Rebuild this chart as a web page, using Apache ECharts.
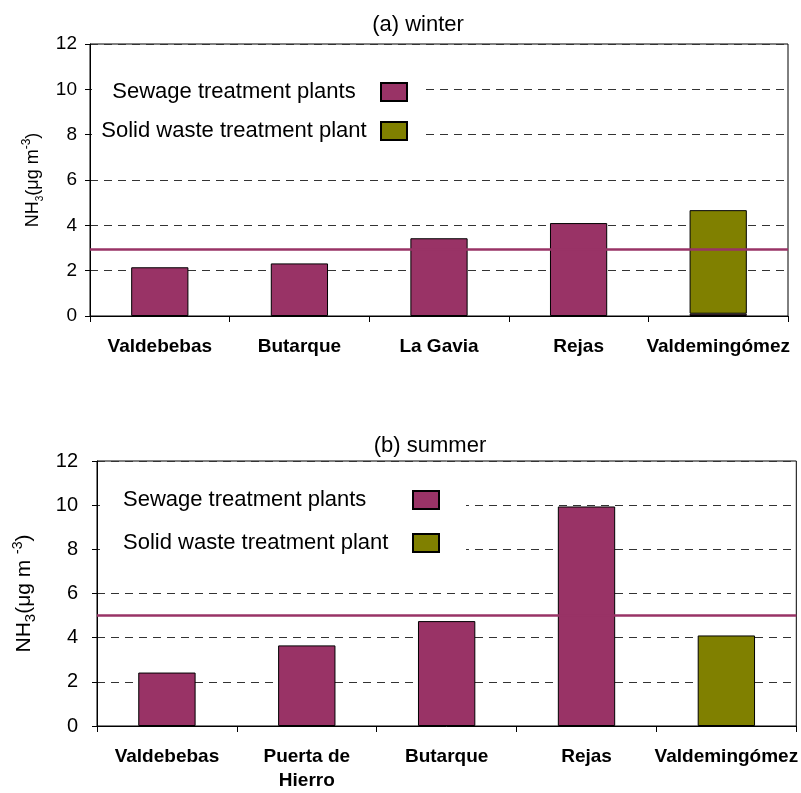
<!DOCTYPE html>
<html>
<head>
<meta charset="utf-8">
<script src="https://cdn.jsdelivr.net/npm/echarts@6/dist/echarts.min.js"></script>
<style>
  html, body { margin: 0; padding: 0; background: #fff; }
  #chart { width: 801px; height: 793px; }
</style>
</head>
<body>
<div id="chart"></div>
<script>
// NH3 concentrations near treatment plants, winter and summer campaigns
const winterSites = ['Valdebebas', 'Butarque', 'La Gavia', 'Rejas', 'Valdemingómez'];
const winterSewage = [2.15, 2.32, 3.43, 4.10, 0.10];
const winterSolid = ['-', '-', '-', '-', 4.57];
const winterReference = 2.95;

const summerSites = ['Valdebebas', 'Puerta de\nHierro', 'Butarque', 'Rejas', 'Valdemingómez'];
const summerSewage = [2.42, 3.65, 4.75, 9.94, '-'];
const summerSolid = ['-', '-', '-', '-', 4.10];
const summerReference = 5.0;

const yTicks = { min: 0, max: 12, interval: 2 };
const seriesNames = ['Sewage treatment plants', 'Solid waste treatment plant'];
const panelTitles = ['(a) winter', '(b) summer'];

const FONT = 'Arial, "Liberation Sans", sans-serif';
const SEWAGE_COLOR = '#993366';
const SOLID_COLOR = '#808000';

// axis title with subscript 3 and superscript -3
function unitName(spaced) {
  return '{a|NH}{s|3}{a|(μg m' + (spaced ? ' ' : '') + '}{p|-3}{a|)}';
}
function unitRich(size, subScale) {
  const lh = size + 6;
  return {
    a: { fontSize: size, fontFamily: FONT, color: '#000', lineHeight: lh },
    s: { fontSize: Math.round(size * subScale), fontFamily: FONT, color: '#000', verticalAlign: 'bottom', lineHeight: lh },
    p: { fontSize: Math.round(size * 0.68), fontFamily: FONT, color: '#000', verticalAlign: 'top', lineHeight: lh }
  };
}

function yAxisFor(gridIndex, labelSize, nameSize, subScale, nameGap, labelMargin, spaced) {
  return {
    type: 'value', gridIndex,
    min: yTicks.min, max: yTicks.max, interval: yTicks.interval,
    name: unitName(spaced),
    nameLocation: 'middle', nameRotate: 90, nameGap,
    nameTextStyle: { rich: unitRich(nameSize, subScale) },
    axisLine: { show: true, lineStyle: { color: '#000', width: 1 } },
    axisTick: { show: true, length: 5, lineStyle: { color: '#000' } },
    axisLabel: { fontSize: labelSize, fontFamily: FONT, color: '#000', margin: labelMargin },
    splitLine: { show: true, lineStyle: { color: '#333', width: 1, type: [8, 6] } }
  };
}

function xAxisFor(gridIndex, cats) {
  return {
    type: 'category', gridIndex, data: cats,
    axisLine: { show: true, lineStyle: { color: '#000', width: 1 } },
    axisTick: { show: true, alignWithLabel: false, length: 6, lineStyle: { color: '#000' } },
    axisLabel: { fontSize: 19, fontWeight: 'bold', fontFamily: FONT, color: '#000', margin: 19, lineHeight: 24, interval: 0 }
  };
}

function barSeries(name, data, idx, color, refValue) {
  const s = {
    name, type: 'bar', data, xAxisIndex: idx, yAxisIndex: idx, stack: 'site' + idx,
    barWidth: '41%',
    itemStyle: { color, borderColor: '#000', borderWidth: 1 },
    emphasis: { disabled: true }
  };
  if (refValue !== undefined) {
    s.markLine = {
      silent: true, symbol: 'none', label: { show: false },
      lineStyle: { color: SEWAGE_COLOR, width: 2.5, type: 'solid' },
      data: [{ yAxis: refValue }]
    };
  }
  return s;
}

function legendFor(left, top, textWidth, align, gap, pad) {
  return {
    data: seriesNames,
    orient: 'vertical', align: 'right',
    left, top,
    icon: 'rect',
    itemWidth: 26, itemHeight: 18, itemGap: gap,
    backgroundColor: '#fff', padding: pad,
    selectedMode: false,
    formatter: n => '{t|' + n + '}',
    textStyle: {
      rich: { t: { width: textWidth, align, fontSize: 22, fontFamily: FONT, color: '#000', lineHeight: 22 } }
    }
  };
}

const chart = echarts.init(document.getElementById('chart'), null, { renderer: 'canvas' });
chart.setOption({
  animation: false,
  backgroundColor: '#fff',
  title: [
    { text: panelTitles[0], left: 413, top: 9, textAlign: 'center',
      textStyle: { fontSize: 22, fontWeight: 'normal', fontFamily: FONT, color: '#000' } },
    { text: panelTitles[1], left: 425, top: 430, textAlign: 'center',
      textStyle: { fontSize: 22, fontWeight: 'normal', fontFamily: FONT, color: '#000' } }
  ],
  legend: [
    legendFor(92, 72, 284, 'center', 17, [9, 13, 8, 0]),
    legendFor(100, 479, 285, 'left', 21, [10, 26, 10, 23])
  ],
  grid: [
    { left: 90, right: 13, top: 44, bottom: 477, show: true, borderColor: '#000', borderWidth: 1 },
    { left: 97, right: 3, top: 461, bottom: 63, show: true, borderColor: '#000', borderWidth: 1 }
  ],
  xAxis: [xAxisFor(0, winterSites), xAxisFor(1, summerSites)],
  yAxis: [
    yAxisFor(0, 19, 18, 0.55, 43, 13, false),
    yAxisFor(1, 20, 21, 0.72, 59, 19, true)
  ],
  series: [
    barSeries(seriesNames[0], winterSewage, 0, SEWAGE_COLOR, winterReference),
    barSeries(seriesNames[1], winterSolid, 0, SOLID_COLOR),
    barSeries(seriesNames[0], summerSewage, 1, SEWAGE_COLOR, summerReference),
    barSeries(seriesNames[1], summerSolid, 1, SOLID_COLOR)
  ]
});
</script>
</body>
</html>
